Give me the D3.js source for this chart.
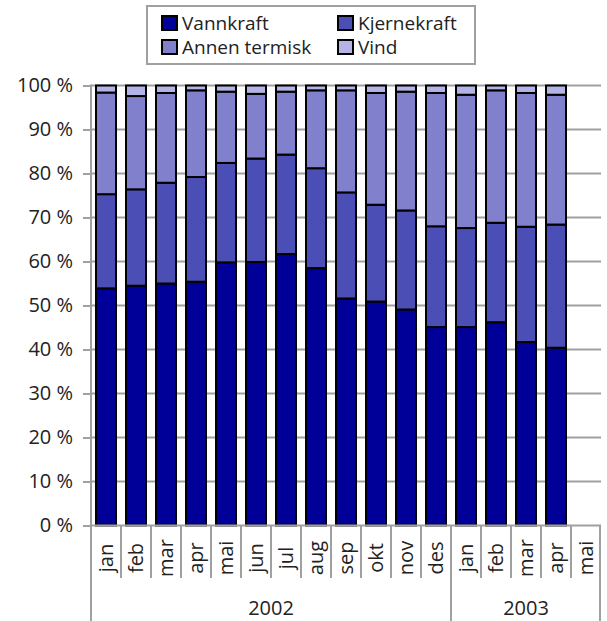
<!DOCTYPE html>
<html>
<head>
<meta charset="utf-8">
<script src="https://cdnjs.cloudflare.com/ajax/libs/d3/7.8.5/d3.min.js"></script>
<style>
  body { margin: 0; background: #fff; }
  svg text { font-family: "Open Sans", sans-serif; fill: #222; }
</style>
</head>
<body>
<div id="chart"></div>
<script>
// data (percent of production)
var months = ["jan","feb","mar","apr","mai","jun","jul","aug","sep","okt","nov","des",
              "jan","feb","mar","apr","mai"];
var years = [{ label: "2002", n: 12 }, { label: "2003", n: 5 }];
var seriesNames = ["Vannkraft", "Kjernekraft", "Annen termisk", "Vind"];
var vannkraft    = [53.9, 54.5, 55.0, 55.4, 59.8, 59.9, 61.7, 58.5, 51.6, 50.9, 49.1, 45.1, 45.1, 46.2, 41.7, 40.4, 0];
var kjernekraft  = [21.4, 21.9, 22.9, 23.8, 22.6, 23.5, 22.6, 22.7, 24.1, 22.0, 22.5, 22.9, 22.5, 22.6, 26.2, 28.0, 0];
var annenTermisk = [23.1, 21.2, 20.4, 19.7, 16.2, 14.7, 14.3, 17.7, 23.2, 25.4, 27.0, 30.3, 30.3, 30.1, 30.4, 29.5, 0];
var vind         = [ 1.6,  2.4,  1.7,  1.1,  1.4,  1.9,  1.4,  1.1,  1.1,  1.7,  1.4,  1.7,  2.1,  1.1,  1.7,  2.1, 0];
var yTicks = [0, 10, 20, 30, 40, 50, 60, 70, 80, 90, 100];

var colours = ["#000099", "#4b4fb5", "#8080cc", "#b3b3e6"];

var W = 607, H = 621;
var x0 = 91, x1 = 601, yTop = 85.5, yBot = 525.5;

var svg = d3.select("#chart").append("svg")
  .attr("width", W).attr("height", H);

var x = d3.scaleBand().domain(d3.range(months.length)).range([x0, x1]).paddingInner(1/3).paddingOuter(1/6);
var xb = d3.scaleBand().domain(d3.range(months.length)).range([x0, x1]);
var y = d3.scaleLinear().domain([0, 100]).range([yBot, yTop]);

// gridlines
svg.append("g").selectAll("line").data(yTicks.filter(function(d) { return d > 0; }))
  .enter().append("line")
  .attr("x1", x0).attr("x2", x1)
  .attr("y1", function(d) { return y(d); }).attr("y2", function(d) { return y(d); })
  .attr("stroke", "#a0a0a0").attr("stroke-width", 2);

// y axis
var yAxis = d3.axisLeft(y).tickValues(yTicks).tickSize(8).tickPadding(10)
  .tickFormat(function(d) { return d + " %"; });
var gy = svg.append("g").attr("transform", "translate(" + x0 + ",0)").call(yAxis);
gy.select(".domain").remove();
gy.selectAll("line").attr("stroke", "#a0a0a0").attr("stroke-width", 2);
gy.selectAll("text").style("font-size", "20px").attr("fill", "#222")
  .style("font-family", "'Open Sans', sans-serif");
svg.append("line").attr("x1", x0).attr("x2", x0).attr("y1", yTop - 1).attr("y2", H)
  .attr("stroke", "#a0a0a0").attr("stroke-width", 2);

// stacked bars
var rows = months.map(function(m, i) {
  return { i: i, "Vannkraft": vannkraft[i], "Kjernekraft": kjernekraft[i],
           "Annen termisk": annenTermisk[i], "Vind": vind[i] };
});
var stacked = d3.stack().keys(seriesNames)(rows);
svg.append("g").selectAll("g").data(stacked).enter().append("g")
  .attr("fill", function(d, k) { return colours[k]; })
  .selectAll("rect").data(function(d) { return d.filter(function(p) { return p[1] > p[0]; }); })
  .enter().append("rect")
  .attr("x", function(d) { return x(d.data.i); })
  .attr("width", x.bandwidth())
  .attr("y", function(d) { return y(d[1]); })
  .attr("height", function(d) { return y(d[0]) - y(d[1]); })
  .attr("stroke", "#000").attr("stroke-width", 2);

// x axis line
svg.append("line").attr("x1", x0).attr("x2", x1).attr("y1", yBot).attr("y2", yBot)
  .attr("stroke", "#a0a0a0").attr("stroke-width", 2);

// month separators and labels
var yearStarts = [0];
years.forEach(function(yr, k) { yearStarts.push(yearStarts[k] + yr.n); });
svg.append("g").selectAll("line").data(d3.range(1, months.length + 1))
  .enter().append("line")
  .attr("x1", function(i) { return i < months.length ? xb(i) : x1 - 1; })
  .attr("x2", function(i) { return i < months.length ? xb(i) : x1 - 1; })
  .attr("y1", yBot)
  .attr("y2", function(i) { return yearStarts.indexOf(i) >= 0 ? H : 578; })
  .attr("stroke", "#a0a0a0").attr("stroke-width", 2);

svg.append("g").selectAll("text").data(months).enter().append("text")
  .attr("transform", function(d, i) {
    return "translate(" + (xb(i) + xb.bandwidth() / 2) + ",558) rotate(-90)";
  })
  .attr("text-anchor", "middle").attr("dy", "0.35em")
  .style("font-size", "20px")
  .text(function(d) { return d; });

svg.append("g").selectAll("text").data(years).enter().append("text")
  .attr("x", function(d, k) {
    return (xb(yearStarts[k]) + (yearStarts[k + 1] < months.length ? xb(yearStarts[k + 1]) : x1)) / 2;
  })
  .attr("y", 615)
  .attr("text-anchor", "middle")
  .style("font-size", "20px")
  .text(function(d) { return d.label; });

// legend
var lg = svg.append("g");
lg.append("rect").attr("x", 147).attr("y", 6).attr("width", 328).attr("height", 58)
  .attr("fill", "#fff").attr("stroke", "#a0a0a0").attr("stroke-width", 2);
var items = lg.selectAll("g.item").data(seriesNames).enter().append("g")
  .attr("transform", function(d, k) {
    return "translate(" + (k % 2 === 0 ? 162 : 338) + "," + (Math.floor(k / 2) === 0 ? 16 : 40) + ")";
  });
items.append("rect").attr("width", 15).attr("height", 14)
  .attr("fill", function(d, k) { return colours[k]; })
  .attr("stroke", "#000").attr("stroke-width", 2);
items.append("text").attr("x", 20).attr("y", 14)
  .style("font-size", "19px")
  .text(function(d) { return d; });
</script>
</body>
</html>
